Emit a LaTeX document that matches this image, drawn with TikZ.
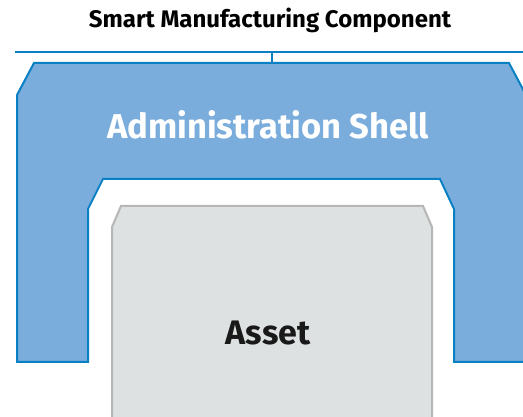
\documentclass[tikz,border=0pt]{standalone}
\usepackage{fontspec}
\setmainfont{Fira Sans}

\definecolor{shellfill}{HTML}{7AADDC}
\definecolor{shellline}{HTML}{0A80C4}
\definecolor{assetfill}{HTML}{DEE1E2}
\definecolor{assetline}{HTML}{B6B6B6}

\begin{document}
\begin{tikzpicture}[x=1pt,y=-1pt,every node/.style={font=\bfseries}]
    \clip (0, 0) rectangle (523, 417);

    % component bracket
    \node (title) at (270, 20) {\fontsize{24}{28}\selectfont Smart Manufacturing Component};
    \coordinate (barL) at (15, 52);
    \coordinate (barR) at (530, 52);
    \coordinate (barM) at (272, 52);
    \coordinate (shellTop) at (272, 63);
    \draw[shellline, line width=2pt] (barL) -- (barR);
    \draw[shellline, line width=2pt] (barM) -- (shellTop);

    % administration shell
    \draw[shellline, fill=shellfill, line width=2pt, line join=miter]
        (17, 362) -- (17, 95) -- (34, 63) -- (509, 63) -- (526, 95) -- (526, 362)
        -- (454, 362) -- (454, 209) -- (440, 179) -- (103, 179) -- (88, 209)
        -- (88, 362) -- cycle;
    \node[white] (shell) at (268, 125) {\fontsize{34.5}{40}\selectfont Administration Shell};

    % asset
    \draw[assetline, fill=assetfill, line width=2pt]
        (112, 430) -- (112, 227) -- (121, 206) -- (423, 206) -- (432, 227) -- (432, 430);
    \node[black!90] (asset) at (268, 333) {\fontsize{34}{40}\selectfont Asset};
  \end{tikzpicture}
\end{document}
